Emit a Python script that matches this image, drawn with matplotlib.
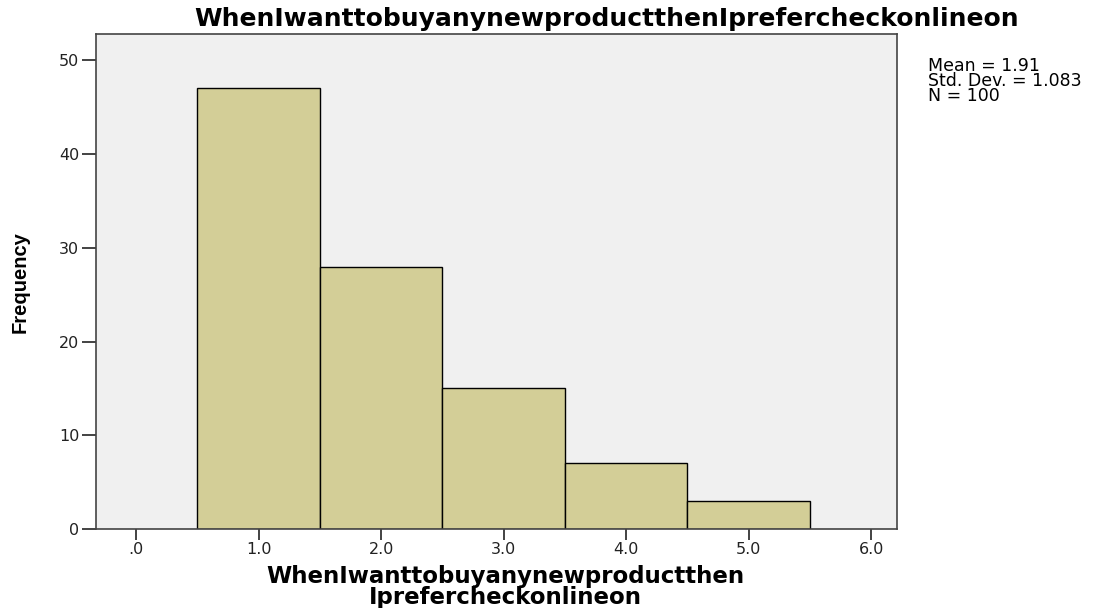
import matplotlib.pyplot as plt

# histogram counts read from the SPSS output
bin_centers = [1, 2, 3, 4, 5]
counts = [47, 28, 15, 7, 3]
xtick_vals = [0, 1, 2, 3, 4, 5, 6]
xtick_labels = ['.0', '1.0', '2.0', '3.0', '4.0', '5.0', '6.0']
ytick_vals = [0, 10, 20, 30, 40, 50]
title = 'WhenIwanttobuyanynewproductthenIprefercheckonlineon'
xlabel = 'WhenIwanttobuyanynewproductthen\nIprefercheckonlineon'
stats = 'Mean = 1.91\nStd. Dev. = 1.083\nN = 100'

# the source image is stretched sideways, DejaVu is the widest face we have
plt.rcParams['font.family'] = ['DejaVu Sans']

fig = plt.figure(figsize=(10.96, 6.08), dpi=100)
ax = fig.add_axes([96 / 1096, 1 - 529 / 608, (897 - 96) / 1096, (529 - 34) / 608])
ax.set_facecolor('#F0F0F0')

ax.bar(bin_centers, counts, width=1.0, color='#D3CE97', edgecolor='black', linewidth=1.0)

ax.set_xlim(-0.327, 6.21)
ax.set_ylim(0, 52.8)
ax.set_xticks(xtick_vals)
ax.set_xticklabels(xtick_labels)
ax.set_yticks(ytick_vals)
ax.tick_params(axis='x', length=8, width=1.2, labelsize=11.5, pad=1, colors='#222222')
ax.tick_params(axis='y', length=10, width=1.2, labelsize=11.5, pad=2, colors='#222222')
for s in ax.spines.values():
    s.set_color('#444444')
    s.set_linewidth(1.2)

fig.text(607 / 1096, 1 - 19 / 608, title, ha='center', va='center',
         fontsize=18, fontweight='bold')
fig.text(20 / 1096, 1 - 282 / 608, 'Frequency', rotation=90, ha='center', va='center',
         fontsize=14.5, fontweight='bold', family='Liberation Sans')
fig.text(505 / 1096, 1 - 587 / 608, xlabel, ha='center', va='center',
         fontsize=16.5, fontweight='bold', linespacing=0.85)
fig.text(928 / 1096, 1 - 81 / 608, stats, ha='left', va='center',
         fontsize=12.5, linespacing=0.8)

fig.savefig('out.png', dpi=100)
